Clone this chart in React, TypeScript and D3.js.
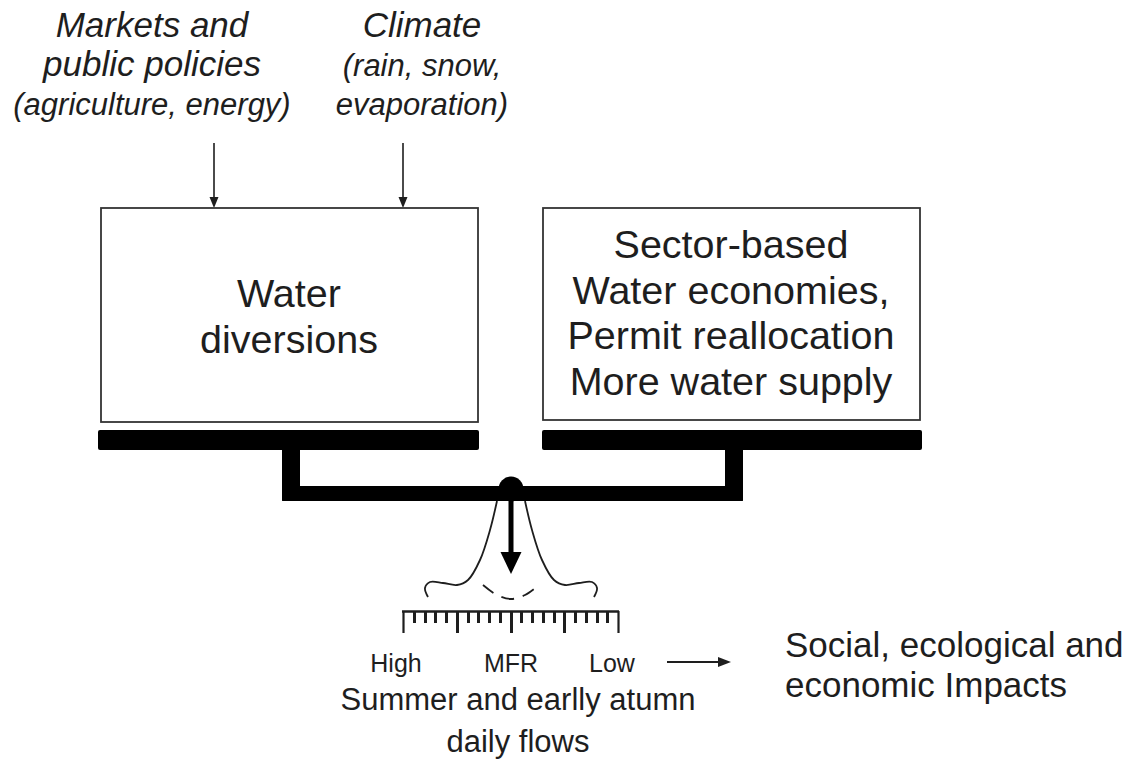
import React from "react";
import * as d3 from "d3";

// ---- Data ----
const driverLeft = ["Markets and", "public policies", "(agriculture, energy)"];
const driverRight = ["Climate", "(rain, snow,", "evaporation)"];
const leftBoxLines = ["Water", "diversions"];
const rightBoxLines = ["Sector-based", "Water economies,", "Permit reallocation", "More water supply"];
const rulerLabels = ["High", "MFR", "Low"];
const flowLines = ["Summer and earlly atumn", "daily flows"];
const impactLines = ["Social, ecological and", "economic Impacts"];
const rulerTickCount = 20; // 20 intervals, major every 5

// bell curve (left half, relative to pivot: dx, dy)
const bellHalf: [number, number][] = [
  [-83, 108], [-86, 99], [-81, 93], [-68, 94], [-54, 96], [-43, 91], [-31, 71], [-21, 41], [-14, 12],
];
const dashedCurve: [number, number][] = [[-28, 96], [-14, 106], [0, 110], [14, 106], [28, 96]];

const W = 1132, H = 762;
const INK = "#1e1e1e";
const FONT = "'Liberation Sans', Arial, Helvetica, sans-serif";

export default function App() {
  const pivot = { x: 511, y: 489 };
  const lineGen = d3.line<[number, number]>()
    .x((d) => pivot.x + d[0])
    .y((d) => pivot.y + d[1])
    .curve(d3.curveCatmullRom.alpha(0.5));
  const rightHalf = bellHalf.map(([x, y]) => [-x, y] as [number, number]);

  const rx = d3.scaleLinear().domain([0, rulerTickCount]).range([403, 618]);
  const ticks = d3.range(0, rulerTickCount + 1);
  const labelX = d3.scaleOrdinal<string, number>().domain(rulerLabels).range([396, 511, 612]);

  const arrowHead = (x: number, y: number, w: number, h: number, dir: "down" | "right") =>
    dir === "down"
      ? `M${x - w / 2},${y - h}L${x + w / 2},${y - h}L${x},${y}Z`
      : `M${x - h},${y - w / 2}L${x - h},${y + w / 2}L${x},${y}Z`;

  return (
    <svg width={W} height={H} style={{ position: "absolute", left: 0, top: 0, background: "#fff" }} fontFamily={FONT}>
      <rect width={W} height={H} fill="#fff" />
      {/* Drivers */}
      <g fill={INK} fontStyle="italic" textAnchor="middle">
        {driverLeft.map((t, i) => (
          <text key={t} x={152} y={37 + i * 39} fontSize={i < 2 ? 35 : 31}>{t}</text>
        ))}
        {driverRight.map((t, i) => (
          <text key={t} x={422} y={37 + i * 39} fontSize={i < 1 ? 35 : 31}>{t}</text>
        ))}
      </g>
      {/* driver arrows */}
      {[214, 403].map((x) => (
        <g key={x}>
          <line x1={x} x2={x} y1={143} y2={200} stroke={INK} strokeWidth={1.6} />
          <path d={arrowHead(x, 208, 9, 11, "down")} fill={INK} />
        </g>
      ))}
      {/* Boxes */}
      <rect x={101} y={208} width={377} height={214} fill="none" stroke="#333" strokeWidth={1.8} />
      <rect x={543} y={208} width={377} height={212} fill="none" stroke="#333" strokeWidth={1.8} />
      <g fill={INK} textAnchor="middle" fontSize={39.5}>
        {leftBoxLines.map((t, i) => (
          <text key={t} x={289} y={307 + i * 46}>{t}</text>
        ))}
        {rightBoxLines.map((t, i) => (
          <text key={t} x={731} y={258 + i * 45.5}>{t}</text>
        ))}
      </g>
      {/* Balance */}
      <g fill="#000">
        <rect x={98} y={430} width={381} height={20} rx={2} />
        <rect x={542} y={430} width={380} height={20} rx={2} />
        <rect x={282} y={446} width={18} height={55} rx={1} />
        <rect x={725} y={446} width={18} height={55} rx={1} />
        <rect x={282} y={486} width={461} height={15} rx={1} />
        <circle cx={pivot.x} cy={pivot.y} r={12.5} />
        <rect x={pivot.x - 2.5} y={pivot.y} width={5} height={66} />
        <path d={arrowHead(pivot.x, 574, 21, 22, "down")} />
      </g>
      {/* Bell curve */}
      <path d={lineGen(bellHalf) ?? ""} fill="none" stroke={INK} strokeWidth={1.8} />
      <path d={lineGen(rightHalf) ?? ""} fill="none" stroke={INK} strokeWidth={1.8} />
      <path d={lineGen(dashedCurve) ?? ""} fill="none" stroke={INK} strokeWidth={1.8} strokeDasharray="13 9" />
      {/* Ruler */}
      <line x1={rx(0) - 1} x2={rx(rulerTickCount) + 1} y1={611.5} y2={611.5} stroke={INK} strokeWidth={2.5} />
      {ticks.map((i) => {
        const major = i % 5 === 0;
        return (
          <line key={i} x1={Math.round(rx(i)) + 0.5} x2={Math.round(rx(i)) + 0.5} y1={611} y2={major ? 633 : 623}
            stroke={INK} strokeWidth={i === 0 || i === rulerTickCount ? 2.2 : 3} />
        );
      })}
      <g fill={INK} textAnchor="middle" fontSize={25}>
        {rulerLabels.map((t) => (
          <text key={t} x={labelX(t)} y={672}>{t}</text>
        ))}
      </g>
      <g fill={INK} textAnchor="middle" fontSize={31}>
        {flowLines.map((t, i) => (
          <text key={t} x={518} y={710 + i * 42}>{t}</text>
        ))}
      </g>
      {/* impact arrow */}
      <line x1={667} x2={720} y1={662} y2={662} stroke={INK} strokeWidth={2} />
      <path d={arrowHead(731, 662, 10, 13, "right")} fill={INK} />
      <g fill={INK} fontSize={35}>
        {impactLines.map((t, i) => (
          <text key={t} x={785} y={657 + i * 40}>{t}</text>
        ))}
      </g>
    </svg>
  );
}
